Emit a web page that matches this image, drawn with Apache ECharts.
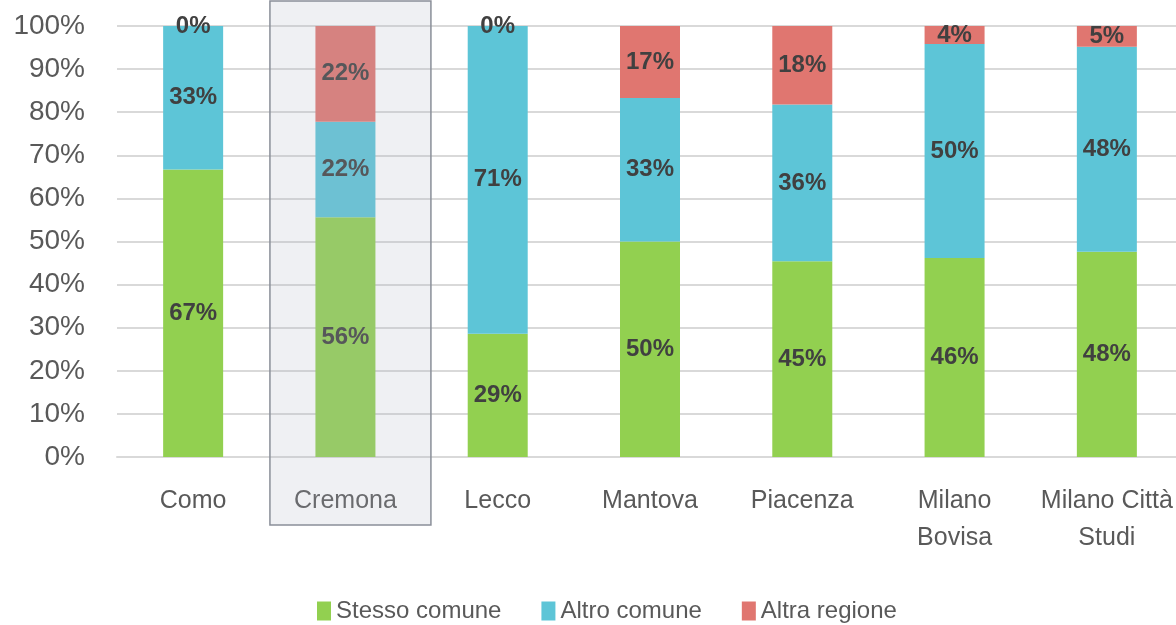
<!DOCTYPE html>
<html>
<head>
<meta charset="utf-8">
<script src="https://cdn.jsdelivr.net/npm/echarts@6/dist/echarts.min.js"></script>
<style>
  html, body { margin: 0; padding: 0; background: #fff; }
  #main { width: 1176px; height: 625px; }
</style>
</head>
<body>
<div id="main"></div>
<script>
const chart = echarts.init(document.getElementById('main'));

// data (percent of each site)
const sedi = ['Como', 'Cremona', 'Lecco', 'Mantova', 'Piacenza', 'Milano\nBovisa', 'Milano Città\nStudi'];
const stessoComune = [66.7, 55.6, 28.6, 50.0, 45.4, 46.2, 47.6];
const altroComune = [33.3, 22.2, 71.4, 33.3, 36.4, 49.6, 47.6];
const altraRegione = [0, 22.2, 0, 16.7, 18.2, 4.2, 4.8];
const yTicks = [0, 10, 20, 30, 40, 50, 60, 70, 80, 90, 100];
const highlight = 'Cremona';

const font = '"Liberation Sans", Arial, sans-serif';

function serie(name, data, color) {
  return {
    name: name,
    type: 'bar',
    stack: 'tot',
    barWidth: 60,
    data: data,
    itemStyle: { color: color },
    label: {
      show: true,
      position: 'inside',
      formatter: p => Math.round(p.value) + '%',
      color: '#404040',
      fontFamily: font,
      fontWeight: 'bold',
      fontSize: 24
    }
  };
}

let option = {
  animation: false,
  grid: { left: 117, width: 1066, top: 26, bottom: 168, containLabel: false, outerBoundsMode: 'none' },
  legend: {
    top: 594,
    left: 312,
    itemWidth: 14,
    itemHeight: 19,
    itemGap: 40,
    icon: 'rect',
    textStyle: { color: '#595959', fontSize: 24, fontFamily: font }
  },
  xAxis: {
    type: 'category',
    data: sedi,
    axisLine: { lineStyle: { color: '#d9d9d9', width: 2 } },
    axisTick: { show: false },
    axisLabel: {
      color: '#595959',
      fontSize: 25,
      fontFamily: font,
      margin: 26,
      lineHeight: 37,
      interval: 0
    }
  },
  yAxis: {
    type: 'value',
    min: 0,
    max: 100,
    interval: 10,
    axisLine: { show: false },
    axisTick: { show: false },
    splitLine: { lineStyle: { color: '#d9d9d9', width: 2 } },
    axisLabel: {
      color: '#595959',
      fontSize: 28,
      fontFamily: font,
      margin: 32,
      formatter: v => yTicks.includes(v) ? v + '%' : ''
    }
  },
  series: [
    serie('Stesso comune', stessoComune, '#92d050'),
    serie('Altro comune', altroComune, '#5dc5d7'),
    serie('Altra regione', altraRegione, '#e07670')
  ]
};

chart.setOption(option);

// grey highlight box around Cremona
const cx = chart.convertToPixel({ xAxisIndex: 0 }, highlight);
chart.setOption({
  graphic: [{
    type: 'rect',
    z: 100,
    silent: true,
    shape: { x: cx - 75.5, y: 1, width: 161, height: 524 },
    style: { fill: 'rgba(175,180,195,0.2)', stroke: '#8a8f99', lineWidth: 1.5 }
  }]
});
</script>
</body>
</html>
